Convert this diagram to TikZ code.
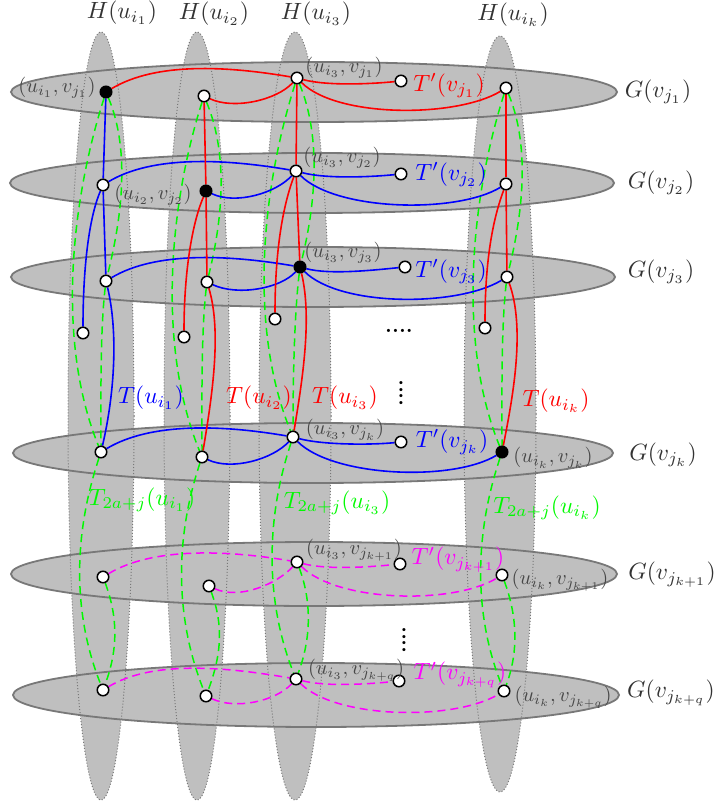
\documentclass[tikz,border=0pt]{standalone}
\usepackage{amsmath}
\usepackage{graphicx}
\definecolor{gfill}{RGB}{191,191,191}
\definecolor{gline}{RGB}{120,120,120}
\definecolor{tgreen}{RGB}{0,250,0}
\definecolor{tmag}{RGB}{255,0,255}
\definecolor{tred}{RGB}{255,0,0}
\definecolor{tblue}{RGB}{0,0,255}
\newcommand{\mylabA}[1]{\scalebox{2.35}{$#1$}}
\newcommand{\mylabB}[1]{\scalebox{2.05}{$#1$}}
\pgfdeclarelayer{bg}
\pgfdeclarelayer{edges}
\pgfsetlayers{bg,edges,main}
\begin{document}
\begin{tikzpicture}[x=1pt,y=-1pt,
  wv/.style={circle,draw=black,fill=white,line width=1.5pt,inner sep=0pt,minimum size=11.5pt},
  bv/.style={wv,fill=black},
  colfill/.style={fill=gfill},
  coledge/.style={draw=gline, dotted, line width=1pt},
  rowedge/.style={draw=gline, line width=1.8pt},
  tr/.style={tred, line width=1.6pt},
  tb/.style={tblue, line width=1.6pt},
  tg/.style={tgreen, line width=1.5pt, dash pattern=on 8pt off 5pt},
  tm/.style={tmag, line width=1.5pt, dash pattern=on 8pt off 5pt},
  big/.style={text=black!80, inner sep=0pt},
  tl/.style={inner sep=0pt},
  vl/.style={text=black!72, inner sep=0pt},
  dotsl/.style={font=\fontsize{22}{24}\selectfont\bfseries, inner sep=0pt},
]
\useasboundingbox (0,0) rectangle (717,805);

% ---------- background shapes
\begin{pgfonlayer}{bg}
  \path[colfill] (101,416) ellipse [x radius=33, y radius=384];
  \path[colfill] (197,416) ellipse [x radius=33, y radius=384];
  \path[colfill] (295,416) ellipse [x radius=36, y radius=384];
  \path[colfill] (500,414) ellipse [x radius=36, y radius=378];
  \path[colfill] (314,92) ellipse [x radius=303, y radius=30];
  \path[colfill] (312,183) ellipse [x radius=302, y radius=30];
  \path[colfill] (313,277) ellipse [x radius=302, y radius=30];
  \path[colfill] (313,453) ellipse [x radius=300, y radius=30];
  \path[colfill] (314,574) ellipse [x radius=303, y radius=32];
  \path[colfill] (316,695) ellipse [x radius=303, y radius=32];
  \path[coledge] (101,416) ellipse [x radius=33, y radius=384];
  \path[coledge] (197,416) ellipse [x radius=33, y radius=384];
  \path[coledge] (295,416) ellipse [x radius=36, y radius=384];
  \path[coledge] (500,414) ellipse [x radius=36, y radius=378];
  \path[rowedge] (314,92) ellipse [x radius=303, y radius=30];
  \path[rowedge] (312,183) ellipse [x radius=302, y radius=30];
  \path[rowedge] (313,277) ellipse [x radius=302, y radius=30];
  \path[rowedge] (313,453) ellipse [x radius=300, y radius=30];
  \path[rowedge] (314,574) ellipse [x radius=303, y radius=32];
  \path[rowedge] (316,695) ellipse [x radius=303, y radius=32];
\end{pgfonlayer}

% ---------- vertices
\node[bv] (a1) at (106,92) {};
\node[wv] (b1) at (204,96) {};
\node[wv] (c1) at (297,78) {};
\node[wv] (t1) at (401,81) {};
\node[wv] (k1) at (506,88) {};

\node[wv] (a2) at (103,185) {};
\node[bv] (b2) at (206,191) {};
\node[wv] (c2) at (296,171) {};
\node[wv] (t2) at (401,174) {};
\node[wv] (k2) at (506,184) {};

\node[wv] (a3) at (106,281) {};
\node[wv] (b3) at (207,282) {};
\node[bv] (c3) at (300,267) {};
\node[wv] (t3) at (405,267) {};
\node[wv] (k3) at (507,277) {};

\node[wv] (ha) at (83,333) {};
\node[wv] (hb) at (184,337) {};
\node[wv] (hc) at (275,319) {};
\node[wv] (hk) at (485,328) {};

\node[wv] (a4) at (101,452) {};
\node[wv] (b4) at (202,457) {};
\node[wv] (c4) at (293,437) {};
\node[wv] (t4) at (401,442) {};
\node[bv] (k4) at (502,452) {};

\node[wv] (a5) at (103,577) {};
\node[wv] (b5) at (209,586) {};
\node[wv] (c5) at (297,562) {};
\node[wv] (t5) at (400,564) {};
\node[wv] (k5) at (502,575) {};

\node[wv] (a6) at (103,690) {};
\node[wv] (b6) at (206,696) {};
\node[wv] (c6) at (296,679) {};
\node[wv] (t6) at (399,681) {};
\node[wv] (k6) at (504,691) {};

% ---------- edges
\begin{pgfonlayer}{edges}
  % green trees T_{2a+j}
  \foreach \p in {a,b,c,k} {
    \draw[tg] (\p1) .. controls +(-35,110) and +(-45,-110) .. (\p4);
    \draw[tg] (\p1) .. controls +(25,60) and +(15,-60) .. (\p3);
    \draw[tg] (\p3) .. controls +(-6,50) and +(0,-50) .. (\p4);
    \draw[tg] (\p4) .. controls +(-30,90) and +(-28,-70) .. (\p6);
    \draw[tg] (\p5) .. controls +(15,40) and +(15,-40) .. (\p6);
  }
  % row trees
  \draw[tr] (a1) .. controls +(50,-30) and +(-70,-12) .. (c1);
  \draw[tr] (b1) .. controls +(30,14) and +(-20,22) .. (c1);
  \draw[tr] (c1) .. controls +(30,8) and +(-30,3) .. (t1);
  \draw[tr] (c1) .. controls +(40,40) and +(-50,30) .. (k1);

  \draw[tb] (a2) .. controls +(50,-30) and +(-70,-12) .. (c2);
  \draw[tb] (b2) .. controls +(30,14) and +(-20,22) .. (c2);
  \draw[tb] (c2) .. controls +(30,8) and +(-30,3) .. (t2);
  \draw[tb] (c2) .. controls +(40,40) and +(-50,30) .. (k2);

  \draw[tb] (a3) .. controls +(50,-30) and +(-70,-12) .. (c3);
  \draw[tb] (b3) .. controls +(30,14) and +(-20,22) .. (c3);
  \draw[tb] (c3) .. controls +(30,8) and +(-30,3) .. (t3);
  \draw[tb] (c3) .. controls +(40,40) and +(-50,30) .. (k3);

  \draw[tb] (a4) .. controls +(50,-30) and +(-70,-12) .. (c4);
  \draw[tb] (b4) .. controls +(30,14) and +(-20,22) .. (c4);
  \draw[tb] (c4) .. controls +(30,8) and +(-30,3) .. (t4);
  \draw[tb] (c4) .. controls +(40,40) and +(-50,30) .. (k4);

  \draw[tm] (a5) .. controls +(50,-30) and +(-70,-12) .. (c5);
  \draw[tm] (b5) .. controls +(30,14) and +(-20,22) .. (c5);
  \draw[tm] (c5) .. controls +(30,8) and +(-30,3) .. (t5);
  \draw[tm] (c5) .. controls +(40,40) and +(-50,30) .. (k5);

  \draw[tm] (a6) .. controls +(50,-30) and +(-70,-12) .. (c6);
  \draw[tm] (b6) .. controls +(30,14) and +(-20,22) .. (c6);
  \draw[tm] (c6) .. controls +(30,8) and +(-30,3) .. (t6);
  \draw[tm] (c6) .. controls +(40,40) and +(-50,30) .. (k6);

  % column trees
  \draw[tb] (a1) -- (a2);
  \draw[tb] (a2) -- (a3);
  \draw[tb] (a2) .. controls +(-15,35) and +(0,-60) .. (ha);
  \draw[tb] (a3) .. controls +(12,50) and +(14,-60) .. (a4);

  \draw[tr] (b1) -- (b2);
  \draw[tr] (b2) -- (b3);
  \draw[tr] (b2) .. controls +(-15,35) and +(0,-60) .. (hb);
  \draw[tr] (b3) .. controls +(15,50) and +(10,-60) .. (b4);

  \draw[tr] (c1) -- (c2);
  \draw[tr] (c2) -- (c3);
  \draw[tr] (c2) .. controls +(-15,40) and +(0,-60) .. (hc);
  \draw[tr] (c3) .. controls +(12,50) and +(10,-60) .. (c4);

  \draw[tr] (k1) -- (k2);
  \draw[tr] (k2) -- (k3);
  \draw[tr] (k2) .. controls +(-15,40) and +(0,-60) .. (hk);
  \draw[tr] (k3) .. controls +(18,50) and +(12,-60) .. (k4);
\end{pgfonlayer}

% ---------- labels
\node[big] (h1) at (122,13) {\mylabA{H(u_{i_1})}};
\node[big] (h2) at (214,14) {\mylabA{H(u_{i_2})}};
\node[big] (h3) at (316,14) {\mylabA{H(u_{i_3})}};
\node[big] (hk4) at (513,15) {\mylabA{H(u_{i_k})}};

\node[big] (g1) at (658,92) {\mylabA{G(v_{j_1})}};
\node[big] (g2) at (661,183) {\mylabA{G(v_{j_2})}};
\node[big] (g3) at (661,272) {\mylabA{G(v_{j_3})}};
\node[big] (g4) at (663,455) {\mylabA{G(v_{j_k})}};
\node[big] (g5) at (672,575) {\mylabA{G(v_{j_{k+1}})}};
\node[big] (g6) at (671,693) {\mylabA{G(v_{j_{k+q}})}};

\node[tl, text=tred] (lt1) at (449,86) {\mylabA{T'(v_{j_1})}};
\node[tl, text=tblue] (lt2) at (451,175) {\mylabA{T'(v_{j_2})}};
\node[tl, text=tblue] (lt3) at (451,272) {\mylabA{T'(v_{j_3})}};
\node[tl, text=tblue] (lt4) at (452,442) {\mylabA{T'(v_{j_k})}};
\node[tl, text=tmag] (lt5) at (458,560) {\mylabA{T'(v_{j_{k+1}})}};
\node[tl, text=tmag] (lt6) at (460,675) {\mylabA{T'(v_{j_{k+q}})}};

\node[tl, text=tblue] (lu1) at (151,398) {\mylabA{T(u_{i_1})}};
\node[tl, text=tred] (lu2) at (259,398) {\mylabA{T(u_{i_2})}};
\node[tl, text=tred] (lu3) at (345,398) {\mylabA{T(u_{i_3})}};
\node[tl, text=tred] (luk) at (556,401) {\mylabA{T(u_{i_k})}};

\node[tl, text=tgreen] (lg1) at (142,500) {\mylabA{T_{2a+j}(u_{i_1})}};
\node[tl, text=tgreen] (lg3) at (337,503) {\mylabA{T_{2a+j}(u_{i_3})}};
\node[tl, text=tgreen] (lgk) at (547,508) {\mylabA{T_{2a+j}(u_{i_k})}};

\node[vl] (v11) at (57,88) {\mylabB{(u_{i_1},v_{j_1})}};
\node[vl] (v31) at (344,68) {\mylabB{(u_{i_3},v_{j_1})}};
\node[vl] (v22) at (153,195) {\mylabB{(u_{i_2},v_{j_2})}};
\node[vl] (v32) at (342,158) {\mylabB{(u_{i_3},v_{j_2})}};
\node[vl] (v33) at (343,253) {\mylabB{(u_{i_3},v_{j_3})}};
\node[vl] (v3k) at (345,430) {\mylabB{(u_{i_3},v_{j_k})}};
\node[vl] (vkk) at (553,458) {\mylabB{(u_{i_k},v_{j_k})}};
\node[vl] (v3k1) at (354,550) {\mylabB{(u_{i_3},v_{j_{k+1}})}};
\node[vl] (vkk1) at (560,580) {\mylabB{(u_{i_k},v_{j_{k+1}})}};
\node[vl] (v3kq) at (356,670) {\mylabB{(u_{i_3},v_{j_{k+q}})}};
\node[vl] (vkkq) at (563,697) {\mylabB{(u_{i_k},v_{j_{k+q}})}};

\node[dotsl] (d1) at (399,331) {....};
\node[dotsl, rotate=90] (d2) at (401,393) {....};
\node[dotsl, rotate=90] (d3) at (404,640) {....};
\end{tikzpicture}
\end{document}
